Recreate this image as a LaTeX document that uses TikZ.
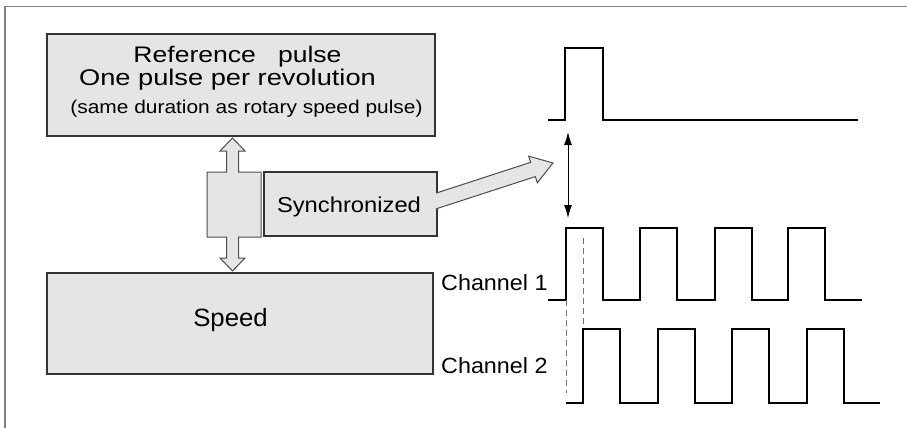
\documentclass[tikz,border=0pt]{standalone}
\usepackage{fontspec}
\setmainfont{Liberation Sans}
\usetikzlibrary{arrows.meta, positioning}

\tikzset{
    box/.style={draw=black!80, fill=black!10, line width=1.2pt, inner sep=0pt},
    fat/.style={draw=black!70, line width=1pt, line join=miter},
    wave/.style={line width=2.6pt, line join=miter},
    guide/.style={draw=black!55, line width=0.9pt, dash pattern=on 6pt off 4pt},
}
% wide text as in the scan
\newcommand{\wtext}[3][1.15]{{\fontsize{#2}{#2}\selectfont\scalebox{#1}[1]{#3}}}

\begin{document}
\begin{tikzpicture}[x=1pt, y=-1pt]
    \useasboundingbox (0,0) rectangle (907,428);
    \draw[black!50, line width=1.6pt] (5,428) -- (5,6.5) -- (907,6.5);

    % blocks
    \node[box, minimum width=388pt, minimum height=102pt] (refbox) at (241,85) {};
    \node[box, minimum width=386pt, minimum height=101pt] (speed) at (240,323.5) {};
    \node[box, minimum width=173pt, minimum height=64pt] (sync) at (350.5,204) {};

    \node[anchor=base] (reftitle) at (237.5,62.7) {\wtext[1.18]{22.5}{Reference\ \ \ pulse}};
    \node[anchor=base] (refline) at (227.5,85) {\wtext[1.2]{22.7}{One pulse per revolution}};
    \node[anchor=base] (refnote) at (246.5,113) {\wtext[1.13]{18.5}{(same duration as rotary speed pulse)}};
    \node[anchor=base] (synctext) at (349,212.7) {\wtext[1.1]{21.6}{Synchronized}};
    \node[anchor=base] (speedtext) at (230.5,326) {\wtext[1.03]{25}{Speed}};
    \node[anchor=base west, inner sep=0pt] (ch1) at (441,290) {\wtext[1.06]{22}{Channel 1}};
    \node[anchor=base west, inner sep=0pt] (ch2) at (441,373) {\wtext[1.06]{22}{Channel 2}};

    % double block arrow between the blocks
    \draw[fat, fill=black!10] (232.5,138) -- (245,151) -- (238.5,151) -- (238.5,172) -- (261,172)
        -- (261,237) -- (238.5,237) -- (238.5,258) -- (245,258) -- (232.5,271) -- (220,258)
        -- (226.5,258) -- (226.5,237) -- (207,237) -- (207,172) -- (226.5,172) -- (226.5,151)
        -- (220,151) -- cycle;

    % block arrow out of sync
    \begin{scope}[shift={(436,201)}, rotate=18]
        \fill[black!10] (-6,7.5) -- (102,7.5) -- (102,14) -- (123,0) -- (102,-14) -- (102,-7.5) -- (-6,-7.5) -- cycle;
        \draw[fat] (-2.44,7.5) -- (102,7.5) -- (102,14) -- (123,0) -- (102,-14) -- (102,-7.5) -- (2.44,-7.5);
    \end{scope}

    % pulses
    \draw[wave] (548,120) -- (565,120) -- (565,48) -- (603,48) -- (603,120) -- (858,120);
    \draw[wave] (548,300) \foreach \t in {566,640,715,788} { -- (\t,300) -- (\t,228) -- (\t+37,228) -- (\t+37,300) } -- (862,300);
    \draw[wave] (566,403) \foreach \t in {583,658,732,807} { -- (\t,403) -- (\t,329) -- (\t+37,329) -- (\t+37,403) } -- (880,403);

    \coordinate (pulseup) at (568,132);
    \coordinate (pulsedown) at (568,218);
    \draw[{Latex[length=13pt,width=8pt]}-{Latex[length=13pt,width=8pt]}, line width=1pt] (pulseup) -- (pulsedown);

    \draw[guide] (566,300) -- (566,393);
    \draw[guide] (583,238) -- (583,328);
\end{tikzpicture}
\end{document}
